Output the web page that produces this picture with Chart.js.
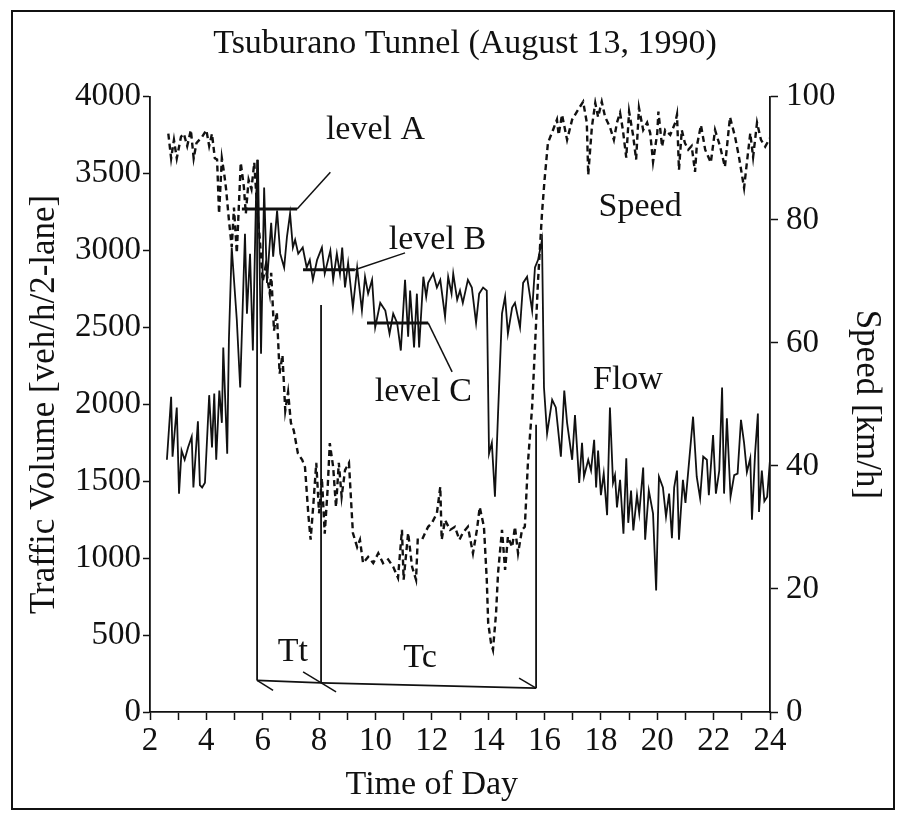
<!DOCTYPE html>
<html>
<head>
<meta charset="utf-8">
<title>Tsuburano Tunnel (August 13, 1990)</title>
<script src="https://cdn.jsdelivr.net/npm/chart.js@4.4.0/dist/chart.umd.min.js"></script>
<style>
  html, body { margin: 0; padding: 0; background: #fff; }
  #chart { display: block; }
</style>
</head>
<body>
<canvas id="chart" width="906" height="815"></canvas>
<script>
const FONT = "'Liberation Serif', 'Times New Roman', serif";

// Flow (solid line, left axis) - hour of day / veh/h/2-lane
const flowHours = [
  2.60, 2.75, 2.80, 2.95, 3.03, 3.12, 3.23, 3.35, 3.48, 3.54, 3.70, 3.77, 3.85, 3.95,
  4.10, 4.20, 4.28, 4.35, 4.46, 4.55, 4.60, 4.74, 4.80, 4.90, 5.08, 5.20, 5.37, 5.44,
  5.55, 5.65, 5.76, 5.83, 5.94, 6.05, 6.15, 6.30, 6.37, 6.51, 6.62, 6.76, 6.86, 6.97,
  7.07, 7.15, 7.26, 7.42, 7.56, 7.67, 7.78, 7.93, 8.10, 8.20, 8.40, 8.50, 8.63, 8.74,
  8.82, 8.92, 9.03, 9.20, 9.35, 9.52, 9.63, 9.74, 9.88, 9.99, 10.17, 10.35, 10.50, 10.63,
  10.77, 10.90, 11.05, 11.16, 11.23, 11.37, 11.47, 11.55, 11.70, 11.80, 11.87, 12.05, 12.18, 12.30,
  12.47, 12.58, 12.70, 12.76, 12.90, 13.00, 13.10, 13.28, 13.42, 13.57, 13.68, 13.82, 13.95, 14.03,
  14.13, 14.24, 14.35, 14.49, 14.60, 14.70, 14.85, 14.95, 15.13, 15.24, 15.38, 15.56, 15.66, 15.77,
  15.91, 15.98, 16.09, 16.27, 16.40, 16.58, 16.70, 16.80, 16.98, 17.08, 17.23, 17.33, 17.40, 17.55,
  17.65, 17.76, 17.83, 17.90, 18.00, 18.10, 18.22, 18.32, 18.43, 18.50, 18.57, 18.68, 18.80, 18.90,
  18.97, 19.07, 19.15, 19.28, 19.36, 19.50, 19.57, 19.70, 19.85, 19.96, 20.06, 20.20, 20.31, 20.42,
  20.52, 20.60, 20.70, 20.77, 20.91, 21.00, 21.27, 21.40, 21.52, 21.63, 21.76, 21.83, 21.98, 22.08,
  22.20, 22.30, 22.37, 22.47, 22.60, 22.73, 22.85, 22.97, 23.08, 23.18, 23.30, 23.36, 23.47, 23.57,
  23.61, 23.71, 23.80, 23.90, 24.00
];
const flowValues = [
  1640, 2050, 1660, 1980, 1420, 1700, 1640, 1720, 1790, 1460, 1890, 1475, 1460, 1490,
  2060, 1720, 2070, 1640, 2090, 1880, 2370, 1680, 2420, 3020, 2550, 2110, 3110, 2590,
  2980, 2350, 3330, 3590, 2330, 3410, 2790, 3180, 2960, 3260, 2980, 2890, 3090, 3240,
  3020, 3070, 2980, 3020, 2890, 2940, 2810, 2940, 3020, 2850, 3000, 2810, 2980, 2850,
  3020, 2760, 2920, 2630, 2890, 2610, 2830, 2720, 2810, 2500, 2660, 2610, 2460, 2590,
  2530, 2350, 2810, 2440, 2740, 2370, 2720, 2370, 2830, 2700, 2790, 2850, 2760, 2810,
  2570, 2830, 2720, 2850, 2680, 2740, 2660, 2810, 2760, 2530, 2720, 2760, 2740, 1680,
  1750, 1400, 1940, 2590, 2700, 2460, 2630, 2660, 2500, 2790, 2830, 2610, 2890, 2940,
  3070, 2110, 1810, 2030, 1980, 1660, 2090, 1880, 1640, 1930, 1490, 1750, 1530, 1640,
  1570, 1770, 1460, 1700, 1410, 1550, 1280, 1980, 1490, 1540, 1330, 1510, 1160, 1650,
  1230, 1440, 1180, 1410, 1290, 1590, 1120, 1440, 1290, 790, 1530, 1460, 1270, 1420,
  1130, 1460, 1570, 1120, 1510, 1360, 1920, 1530, 1390, 1660, 1640, 1410, 1800, 1420,
  1570, 2110, 1420, 1910, 1400, 1540, 1550, 1900, 1750, 1560, 1650, 1250, 1680, 1940,
  1300, 1570, 1370, 1400, 1640
];

// Speed (dashed line, right axis) - hour of day / km/h
const speedHours = [
  2.65, 2.75, 2.85, 2.95, 3.10, 3.20, 3.32, 3.45, 3.55, 3.65, 3.85, 4.00, 4.10, 4.20,
  4.30, 4.38, 4.45, 4.55, 4.63, 4.70, 4.80, 4.90, 4.98, 5.08, 5.22, 5.33, 5.40, 5.50,
  5.60, 5.70, 5.80, 5.90, 6.00, 6.10, 6.25, 6.30, 6.40, 6.50, 6.60, 6.70, 6.80, 6.90,
  7.00, 7.10, 7.25, 7.40, 7.50, 7.62, 7.70, 7.80, 7.90, 8.00, 8.10, 8.20, 8.30, 8.38,
  8.50, 8.60, 8.70, 8.80, 8.92, 9.06, 9.16, 9.20, 9.35, 9.45, 9.56, 9.74, 9.92, 10.10,
  10.27, 10.45, 10.63, 10.80, 10.94, 11.00, 11.16, 11.30, 11.44, 11.50, 11.65, 11.76, 11.87, 12.00,
  12.18, 12.30, 12.35, 12.47, 12.65, 12.82, 12.98, 13.10, 13.28, 13.46, 13.60, 13.70, 13.85, 13.95,
  14.00, 14.10, 14.17, 14.28, 14.35, 14.49, 14.60, 14.70, 14.85, 14.95, 15.06, 15.20, 15.30, 15.41,
  15.56, 15.66, 15.77, 15.91, 16.00, 16.12, 16.30, 16.44, 16.50, 16.62, 16.80, 16.98, 17.15, 17.37,
  17.50, 17.55, 17.68, 17.80, 17.90, 18.03, 18.15, 18.32, 18.46, 18.57, 18.68, 18.78, 18.90, 19.00,
  19.14, 19.25, 19.35, 19.50, 19.64, 19.75, 19.85, 20.00, 20.04, 20.17, 20.28, 20.46, 20.64, 20.70,
  20.77, 20.87, 20.98, 21.10, 21.22, 21.34, 21.40, 21.55, 21.70, 21.90, 22.05, 22.23, 22.40, 22.58,
  22.76, 22.90, 23.08, 23.18, 23.30, 23.40, 23.54, 23.68, 23.83, 24.00
];
const speedValues = [
  94, 90, 93, 90, 93.5, 94, 92, 94.6, 90, 92.5, 93.5, 94.6, 92, 94,
  90, 89.8, 81, 90, 87.6, 85, 80, 75.6, 82, 74.6, 89.3, 85.4, 81, 86.5,
  85, 89.3, 82, 76.7, 70, 72.4, 68, 71.4, 62, 65, 55, 58, 49, 52,
  47, 45.8, 42, 41, 39.8, 32, 28, 34, 40.5, 32.3, 38, 29, 36, 43.7,
  39.8, 33.3, 40.5, 35, 39.3, 40.5, 32.3, 29.1, 26.8, 28, 24.2, 25.2, 24.2, 25.8,
  24.2, 24.8, 23.6, 21.8, 29.6, 21.5, 29.1, 23.6, 21.5, 28, 28, 29.1, 30.1, 30.7,
  32.3, 36.6, 28, 31.2, 29.6, 30.1, 28, 29.1, 30.1, 25.8, 29.6, 33.3, 30.1, 21.5,
  14.5, 11.2, 10.1, 16.1, 22.6, 29.6, 23.1, 28.5, 26.8, 30.1, 25.8, 29.6, 30.1, 40.5,
  49.6, 59.3, 70.2, 81.1, 86.5, 92.5, 94.6, 96.3, 93.8, 97.1, 93, 96.3, 97.6, 99.2,
  95.8, 87.3, 95.1, 99, 96.7, 99.2, 96.7, 95.1, 93, 95.8, 97.4, 94.6, 90.1, 97.6,
  93.8, 89.8, 98.2, 94.6, 95.8, 94.1, 89.4, 94.1, 97.6, 91.9, 94.6, 93.8, 95.8, 97.1,
  88.1, 94.6, 92.5, 91.4, 92, 87.8, 91.9, 95.4, 91.4, 89.3, 94.6, 91.9, 88.6, 96.7,
  93.5, 90.2, 85.2, 89.3, 94.1, 90.2, 95.8, 93, 91.9, 93.3
];

// Axis ranges and ticks
const hourRange = [2, 24];
const flowRange = [0, 4000];
const flowStep = 500;
const speedRange = [0, 100];
const speedStep = 20;

// Annotations, in data units (hour, flow)
const levelMarks = [
  { text: 'level A', from: 5.26, to: 7.22, flow: 3270, leader: [8.4, 3510], label: [10.0, 3785] },
  { text: 'level B', from: 7.43, to: 9.27, flow: 2875, leader: [11.05, 2985], label: [12.2, 3070] },
  { text: 'level C', from: 9.7, to: 11.87, flow: 2530, leader: [12.72, 2211], label: [11.7, 2081] }
];
const phaseHours = [5.8, 8.07, 15.7];
const phaseTops = [3590, 2647, 1867];
const phaseBottoms = [205, 190, 155];
const phaseLabels = [
  { text: 'Tt', at: [7.07, 390] },
  { text: 'Tc', at: [11.58, 350] }
];
const seriesLabels = [
  { text: 'Speed', at: [19.39, 3280] },
  { text: 'Flow', at: [18.96, 2160] }
];

function toPoints(xs, ys) {
  return xs.map((h, i) => ({ x: h, y: ys[i] }));
}

function strokeLine(ctx, x1, y1, x2, y2) {
  ctx.beginPath();
  ctx.moveTo(x1, y1);
  ctx.lineTo(x2, y2);
  ctx.stroke();
}

// Page frame, notes and level marks
const notesPlugin = {
  id: 'notes',
  beforeDraw(chart) {
    const ctx = chart.ctx;
    ctx.save();
    ctx.fillStyle = '#fff';
    ctx.fillRect(0, 0, chart.width, chart.height);
    ctx.strokeStyle = '#111';
    ctx.lineWidth = 2;
    ctx.strokeRect(12, 11, 882, 798);
    ctx.restore();
  },
  afterDatasetsDraw(chart) {
    const ctx = chart.ctx;
    const xs = chart.scales.x;
    const ys = chart.scales.y;
    const px = h => xs.getPixelForValue(h);
    const py = v => ys.getPixelForValue(v);

    ctx.save();
    ctx.strokeStyle = '#111';
    ctx.fillStyle = '#111';
    ctx.textAlign = 'center';
    ctx.textBaseline = 'middle';
    ctx.font = `34px ${FONT}`;

    levelMarks.forEach(m => {
      ctx.lineWidth = 3;
      strokeLine(ctx, px(m.from), py(m.flow), px(m.to), py(m.flow));
      ctx.lineWidth = 1.5;
      strokeLine(ctx, px(m.to), py(m.flow), px(m.leader[0]), py(m.leader[1]));
      ctx.fillText(m.text, px(m.label[0]), py(m.label[1]));
    });

    // Tt / Tc brackets
    ctx.lineWidth = 1.8;
    phaseHours.forEach((h, i) => {
      strokeLine(ctx, px(h), py(phaseTops[i]), px(h), py(phaseBottoms[i]));
    });
    ctx.beginPath();
    phaseHours.forEach((h, i) => {
      if (i === 0) ctx.moveTo(px(h), py(phaseBottoms[i]));
      else ctx.lineTo(px(h), py(phaseBottoms[i]));
    });
    ctx.stroke();
    ctx.lineWidth = 1.5;
    const b0 = [px(phaseHours[0]), py(phaseBottoms[0])];
    const b1 = [px(phaseHours[1]), py(phaseBottoms[1])];
    const b2 = [px(phaseHours[2]), py(phaseBottoms[2])];
    strokeLine(ctx, b0[0], b0[1], b0[0] + 16, b0[1] + 10);
    strokeLine(ctx, b1[0] - 18, b1[1] - 11, b1[0] + 15, b1[1] + 9);
    strokeLine(ctx, b2[0] - 17, b2[1] - 10, b2[0], b2[1]);

    phaseLabels.forEach(l => ctx.fillText(l.text, px(l.at[0]), py(l.at[1])));
    seriesLabels.forEach(l => ctx.fillText(l.text, px(l.at[0]), py(l.at[1])));

    // x axis title
    ctx.fillText('Time of Day', px(12), xs.bottom - 30);
    ctx.restore();
  }
};

const tickFont = { family: FONT, size: 33 };

new Chart(document.getElementById('chart'), {
  type: 'line',
  data: {
    datasets: [
      {
        label: 'Flow',
        data: toPoints(flowHours, flowValues),
        yAxisID: 'y',
        borderColor: '#111',
        borderWidth: 1.8,
        pointRadius: 0,
        tension: 0
      },
      {
        label: 'Speed',
        data: toPoints(speedHours, speedValues),
        yAxisID: 'y1',
        borderColor: '#111',
        borderWidth: 2.4,
        borderDash: [6, 4],
        pointRadius: 0,
        tension: 0
      }
    ]
  },
  options: {
    responsive: false,
    animation: false,
    devicePixelRatio: 1,
    layout: { padding: { left: 24, right: 0, top: 0, bottom: 0 } },
    plugins: {
      legend: { display: false },
      tooltip: { enabled: false },
      title: {
        display: true,
        text: 'Tsuburano Tunnel (August 13, 1990)',
        color: '#111',
        font: { family: FONT, size: 34, weight: 'normal' },
        padding: { top: 24, bottom: 32 }
      }
    },
    scales: {
      x: {
        type: 'linear',
        min: hourRange[0],
        max: hourRange[1],
        afterFit: s => { s.height = 103; },
        border: { display: true, color: '#111', width: 1.8 },
        grid: { drawOnChartArea: false, drawTicks: true, tickLength: 8, tickColor: '#111', tickWidth: 1.5 },
        ticks: {
          stepSize: 1,
          autoSkip: false,
          maxRotation: 0,
          padding: 2,
          color: '#111',
          font: tickFont,
          callback: v => (v % 2 === 0 ? String(v) : '')
        }
      },
      y: {
        position: 'left',
        min: flowRange[0],
        max: flowRange[1],
        afterFit: s => { s.width = 126; },
        border: { display: true, color: '#111', width: 1.8 },
        grid: { drawOnChartArea: false, drawTicks: true, tickLength: 7, tickColor: '#111', tickWidth: 1.5 },
        ticks: { stepSize: flowStep, padding: 2, color: '#111', font: tickFont, callback: v => String(v) },
        title: {
          display: true,
          text: 'Traffic Volume [veh/h/2-lane]',
          color: '#111',
          font: { family: FONT, size: 35 },
          padding: { top: 0, bottom: 0 }
        }
      },
      y1: {
        position: 'right',
        min: speedRange[0],
        max: speedRange[1],
        afterFit: s => { s.width = 136; },
        border: { display: true, color: '#111', width: 1.8 },
        grid: { drawOnChartArea: false, drawTicks: true, tickLength: 8, tickColor: '#111', tickWidth: 1.5 },
        ticks: { stepSize: speedStep, padding: 8, color: '#111', font: tickFont, callback: v => String(v) },
        title: {
          display: true,
          text: 'Speed [km/h]',
          color: '#111',
          font: { family: FONT, size: 35 },
          padding: { top: 19, bottom: 0 }
        }
      }
    }
  },
  plugins: [notesPlugin]
});
</script>
</body>
</html>
